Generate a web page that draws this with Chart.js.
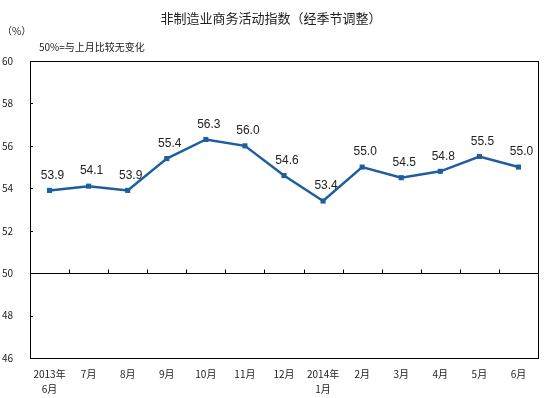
<!DOCTYPE html>
<html>
<head>
<meta charset="utf-8">
<script src="https://cdn.jsdelivr.net/npm/chart.js@4"></script>
<style>
  html, body { margin: 0; padding: 0; background: #fff; }
  #wrap { width: 547px; height: 398px; }
</style>
</head>
<body>
<div id="wrap"><canvas id="c" width="547" height="398"></canvas></div>
<script>
const months = [['2013年', '6月'], '7月', '8月', '9月', '10月', '11月', '12月', ['2014年', '1月'], '2月', '3月', '4月', '5月', '6月'];
const values = [53.9, 54.1, 53.9, 55.4, 56.3, 56.0, 54.6, 53.4, 55.0, 54.5, 54.8, 55.5, 55.0];
const yTicks = [46, 48, 50, 52, 54, 56, 58, 60];

const cjk = '"Noto Sans CJK SC", "DejaVu Sans", sans-serif';

// box, inward ticks, texts, value labels
const decor = {
  id: 'decor',
  afterDraw(chart) {
    const ctx = chart.ctx;
    const a = chart.chartArea;
    const x = chart.scales.x, y = chart.scales.y;
    ctx.save();
    ctx.strokeStyle = '#000';
    ctx.lineWidth = 1;
    ctx.strokeRect(Math.round(a.left) + 0.5, Math.round(a.top) + 0.5, Math.round(a.right - a.left), Math.round(a.bottom - a.top));
    // 50 line
    const y50 = Math.round(y.getPixelForValue(50)) + 0.5;
    ctx.beginPath();
    ctx.moveTo(a.left, y50); ctx.lineTo(a.right, y50);
    // y ticks inward
    yTicks.forEach(v => {
      const py = Math.round(y.getPixelForValue(v)) + 0.5;
      ctx.moveTo(a.left, py); ctx.lineTo(a.left + 3, py);
    });
    // x ticks on 50 line, at category boundaries
    for (let i = 1; i < months.length; i++) {
      const px = Math.round((x.getPixelForValue(i - 1) + x.getPixelForValue(i)) / 2) + 0.5;
      ctx.moveTo(px, y50); ctx.lineTo(px, y50 - 4);
    }
    ctx.stroke();

    ctx.fillStyle = '#222';
    ctx.textAlign = 'center';
    ctx.textBaseline = 'middle';
    ctx.font = '13px ' + cjk;
    ctx.fillText('非制造业商务活动指数（经季节调整）', 271, 18);
    ctx.textAlign = 'left';
    ctx.font = '10px ' + cjk;
    ctx.fillText('（%）', 2, 31);
    ctx.fillText('50%=与上月比较无变化', 39, 47);

    ctx.textAlign = 'center';
    ctx.textBaseline = 'bottom';
    ctx.font = '12px "Liberation Sans", Arial, sans-serif';
    const meta = chart.getDatasetMeta(0);
    meta.data.forEach((pt, i) => {
      ctx.fillText(values[i].toFixed(1), pt.x + 3, pt.y - 9);
    });
    ctx.restore();
  }
};

new Chart(document.getElementById('c'), {
  type: 'line',
  data: {
    labels: months,
    datasets: [{
      data: values,
      borderColor: '#1f5d9c',
      backgroundColor: '#1f5d9c',
      borderWidth: 2.5,
      pointStyle: 'rect',
      pointRadius: 3.6,
      pointBorderWidth: 0,
      tension: 0
    }]
  },
  options: {
    responsive: false,
    animation: false,
    layout: { padding: { top: 61, right: 9, left: 0, bottom: 0 } },
    plugins: { legend: { display: false }, tooltip: { enabled: false } },
    scales: {
      x: {
        offset: true,
        grid: { display: false },
        border: { display: false },
        ticks: {
          autoSkip: false, maxRotation: 0, padding: 1,
          color: '#222', font: { family: cjk, size: 10, lineHeight: 1.5 }
        },
        afterFit(s) { s.height = 40; }
      },
      y: {
        min: 46, max: 60,
        grid: { display: false },
        border: { display: false },
        ticks: {
          stepSize: 2, padding: 9,
          color: '#222', font: { family: cjk, size: 10 }
        },
        afterFit(s) { s.width = 30; }
      }
    }
  },
  plugins: [decor]
});
</script>
</body>
</html>
